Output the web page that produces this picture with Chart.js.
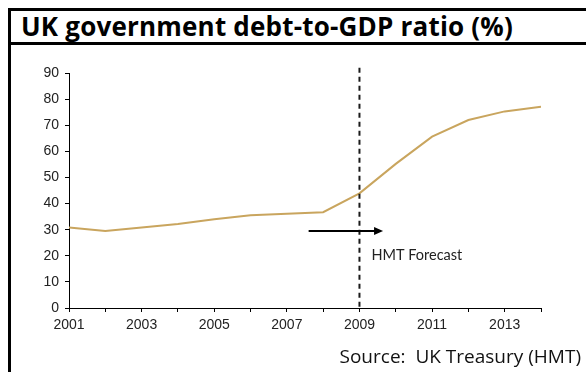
<!DOCTYPE html>
<html lang="en">

<head>
  <meta charset="UTF-8">
  <title>UK government debt-to-GDP ratio</title>
  <script src="https://cdn.jsdelivr.net/npm/chart.js"></script>
  <style>
    body {
      margin: 0;
      padding: 0;
      background-color: #fff;
      width: 586px;
      height: 372px;
      overflow: hidden;
      position: relative;
    }

    .frame {
      position: absolute;
      left: 8px;
      top: 8px;
      width: 578px;
      height: 364px;
      border-left: 3px solid #000;
      border-top: 3px solid #000;
    }

    .title {
      position: absolute;
      left: 11px;
      top: 11px;
      width: 575px;
      height: 31px;
      border-bottom: 3px solid #000;
      font-family: 'Open Sans', sans-serif;
      font-weight: bold;
      font-size: 26px;
      line-height: 31px;
      padding-left: 10px;
      letter-spacing: 0.2px;
      color: #000;
    }

    .chart-box {
      position: absolute;
      left: 11px;
      top: 45px;
      width: 575px;
      height: 327px;
    }

    .source {
      position: absolute;
      right: 5px;
      top: 343px;
      font-family: 'Open Sans', sans-serif;
      font-size: 19px;
      color: #111;
      white-space: pre;
    }
  </style>
</head>

<body>
  <div class="frame"></div>
  <div class="title">UK government debt-to-GDP ratio (%)</div>
  <div class="chart-box">
    <canvas id="debtChart" width="575" height="327"></canvas>
  </div>
  <div class="source">Source:  UK Treasury (HMT)</div>

  <script>
    // data
    const years = [2001, 2002, 2003, 2004, 2005, 2006, 2007, 2008, 2009, 2010, 2011, 2012, 2013, 2014];
    const debtRatio = [30.8, 29.5, 30.8, 32.2, 34.0, 35.5, 36.1, 36.7, 43.9, 55.2, 65.6, 72.0, 75.3, 77.1];

    // forecast marker
    const forecastYear = 2009;
    const forecastLineTop = 92;
    const arrowFrom = 2007.6;
    const arrowTo = 2009.65;
    const arrowLevel = 29.5;
    const forecastLabel = 'HMT Forecast';
    const forecastLabelAt = [2009.33, 20.3];

    const forecastPlugin = {
      id: 'forecast',
      afterDatasetsDraw(chart) {
        const ctx = chart.ctx;
        const xs = chart.scales.x;
        const ys = chart.scales.y;

        // dashed vertical line
        const fx = xs.getPixelForValue(forecastYear);
        ctx.save();
        ctx.strokeStyle = '#1a1a1a';
        ctx.lineWidth = 2;
        ctx.setLineDash([5, 4]);
        ctx.beginPath();
        ctx.moveTo(fx, ys.getPixelForValue(forecastLineTop));
        ctx.lineTo(fx, ys.getPixelForValue(0) + 2);
        ctx.stroke();
        ctx.restore();

        // arrow
        const ax1 = xs.getPixelForValue(arrowFrom);
        const ax2 = xs.getPixelForValue(arrowTo);
        const ay = ys.getPixelForValue(arrowLevel);
        ctx.save();
        ctx.strokeStyle = '#000';
        ctx.fillStyle = '#000';
        ctx.lineWidth = 2;
        ctx.beginPath();
        ctx.moveTo(ax1, ay);
        ctx.lineTo(ax2 - 6, ay);
        ctx.stroke();
        ctx.beginPath();
        ctx.moveTo(ax2, ay);
        ctx.lineTo(ax2 - 9, ay - 4);
        ctx.lineTo(ax2 - 9, ay + 4);
        ctx.closePath();
        ctx.fill();

        // label
        ctx.font = '14.5px Lato, sans-serif';
        ctx.fillStyle = '#222';
        ctx.textBaseline = 'middle';
        ctx.fillText(forecastLabel, xs.getPixelForValue(forecastLabelAt[0]), ys.getPixelForValue(forecastLabelAt[1]));
        ctx.restore();
      }
    };

    const tickFont = { family: "'Liberation Sans', Arial, sans-serif", size: 14 };

    new Chart(document.getElementById('debtChart'), {
      type: 'line',
      data: {
        datasets: [{
          label: 'Debt to GDP',
          data: years.map((y, i) => ({ x: y, y: debtRatio[i] })),
          borderColor: '#C9A55E',
          borderWidth: 2,
          pointRadius: 0,
          tension: 0,
          fill: false
        }]
      },
      options: {
        responsive: false,
        animation: false,
        layout: {
          padding: { left: 0, right: 45, top: 28, bottom: 34 }
        },
        plugins: {
          legend: { display: false },
          tooltip: { enabled: false }
        },
        scales: {
          x: {
            type: 'linear',
            min: 2001,
            max: 2014,
            afterFit: s => { s.height = 30; },
            ticks: {
              stepSize: 1,
              autoSkip: false,
              maxRotation: 0,
              padding: 5,
              color: '#222',
              font: tickFont,
              callback: v => (v % 2 === 1 ? String(v) : '')
            },
            grid: {
              drawOnChartArea: false,
              tickLength: 4,
              color: '#000'
            },
            border: { color: '#000', width: 1 }
          },
          y: {
            min: 0,
            max: 90,
            afterFit: s => { s.width = 58; },
            ticks: {
              stepSize: 10,
              padding: 6,
              color: '#222',
              font: tickFont
            },
            grid: {
              drawOnChartArea: false,
              tickLength: 4,
              color: '#000'
            },
            border: { color: '#000', width: 1 }
          }
        }
      },
      plugins: [forecastPlugin]
    });
  </script>
</body>

</html>
